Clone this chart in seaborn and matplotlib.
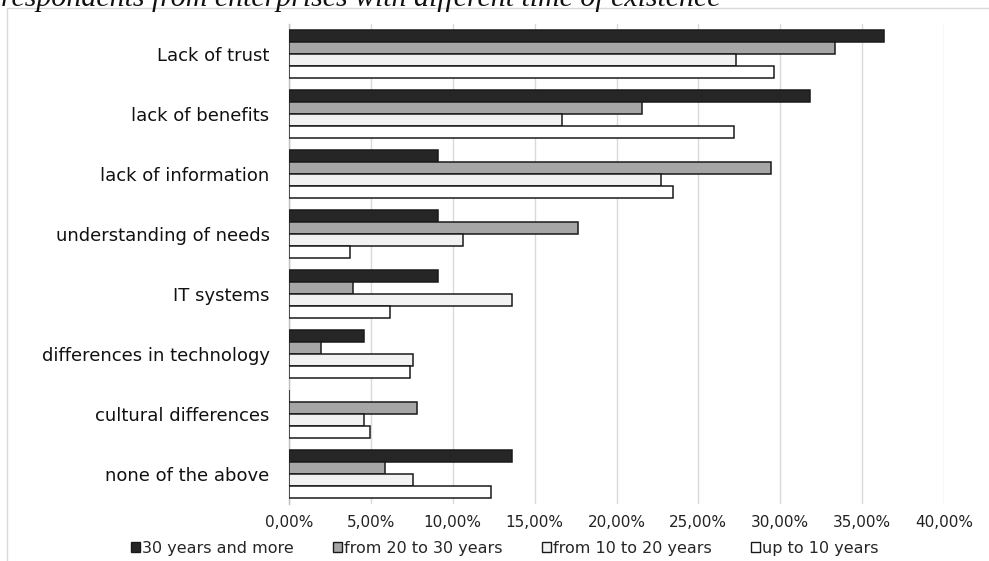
import matplotlib
matplotlib.use("Agg")
import matplotlib.pyplot as plt
from matplotlib.lines import Line2D
from matplotlib.patches import Patch
from matplotlib.ticker import FuncFormatter, MultipleLocator
import pandas as pd
import seaborn as sns

# Reasons for not cooperating, by enterprise age (share of respondents, %)
categories = [
    "Lack of trust",
    "lack of benefits",
    "lack of information",
    "understanding of needs",
    "IT systems",
    "differences in technology",
    "cultural differences",
    "none of the above",
]
series_names = [
    "30 years and more",
    "from 20 to 30 years",
    "from 10 to 20 years",
    "up to 10 years",
]
over_30 = [36.36, 31.82, 9.09, 9.09, 9.09, 4.55, 0.00, 13.64]
from_20_to_30 = [33.33, 21.57, 29.41, 17.65, 3.92, 1.96, 7.84, 5.88]
from_10_to_20 = [27.27, 16.67, 22.73, 10.61, 13.64, 7.58, 4.55, 7.58]
up_to_10 = [29.63, 27.16, 23.46, 3.70, 6.17, 7.41, 4.94, 12.35]
title_text = "respondents from enterprises with different time of existence"

colors = ["#262626", "#a6a6a6", "#f2f2f2", "#ffffff"]

rows = []
for name, vals in zip(series_names, [over_30, from_20_to_30, from_10_to_20, up_to_10]):
    for cat, v in zip(categories, vals):
        rows.append({"reason": cat, "group": name, "share": v})
df = pd.DataFrame(rows)

sns.set_theme(style="white")
plt.rcParams["font.family"] = ["DejaVu Sans"]

W, H = 989, 561
fig = plt.figure(figsize=(W / 100, H / 100), dpi=100)
ax = fig.add_axes([289 / W, (H - 504) / H, (944 - 289) / W, 480 / H])

sns.barplot(
    data=df, y="reason", x="share", hue="group",
    order=categories, hue_order=series_names,
    palette=colors, orient="h", width=0.8, gap=0,
    edgecolor="#1a1a1a", linewidth=1.1, ax=ax, zorder=3,
)

ax.set_xlim(0, 40)
ax.xaxis.set_major_locator(MultipleLocator(5))
ax.xaxis.set_major_formatter(FuncFormatter(lambda v, _: f"{v:.2f}%".replace(".", ",")))
ax.grid(axis="x", color="#d9d9d9", linewidth=1.0, zorder=0)
ax.grid(axis="y", visible=False)
ax.set_xlabel("")
ax.set_ylabel("")
for side in ["top", "right", "bottom"]:
    ax.spines[side].set_visible(False)
ax.spines["left"].set_color("#bfbfbf")
ax.spines["left"].set_linewidth(1.0)
ax.tick_params(axis="x", length=0, pad=8, labelsize=11, labelcolor="#222222")
ax.tick_params(axis="y", length=0, pad=14, labelsize=13, labelcolor="#111111")

ax.get_legend().remove()
handles = [Patch(facecolor=c, edgecolor="#1a1a1a", linewidth=1.0) for c in colors]
fig.legend(
    handles, series_names, loc="center", ncol=4,
    bbox_to_anchor=(505 / W, 1 - 548 / H), frameon=False,
    fontsize=11.5, handlelength=0.55, handleheight=0.55,
    handletextpad=0.15, columnspacing=2.45,
)

# Title line (runs off the top edge) and chart frame
fig.text(1 / W, 1 - 6 / H, title_text, family="Liberation Serif", style="italic",
         fontsize=21.5, va="baseline", ha="left", color="#111111")
fig.add_artist(Line2D([7 / W, 1], [1 - 8 / H, 1 - 8 / H], color="#d9d9d9", linewidth=1.0))
fig.add_artist(Line2D([7 / W, 7 / W], [0, 1 - 8 / H], color="#d9d9d9", linewidth=1.0))

fig.savefig("out.png", dpi=100)
